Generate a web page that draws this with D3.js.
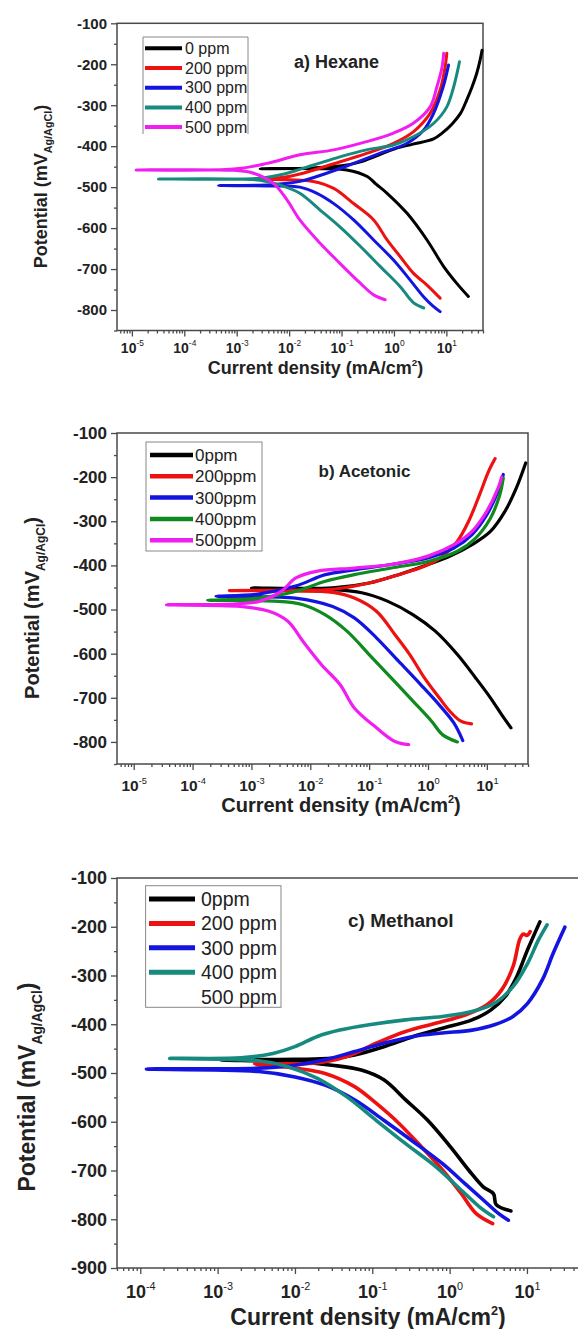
<!DOCTYPE html>
<html>
<head>
<meta charset="utf-8">
<script src="https://cdn.jsdelivr.net/npm/d3@7"></script>
<style>
body { margin: 0; background: #fff; }
svg { display: block; font-family: "Liberation Sans", Arial, sans-serif; }
</style>
</head>
<body>
<svg id="chart" width="578" height="1329"></svg>
<script>
// [current density mA/cm2, potential mV] : cathodic end -> Ecorr tip -> anodic end
let hexane0 = [[26.3,-767],[15.8,-735],[8.9,-694],[4.27,-629],[1.78,-564],[0.74,-515],[0.45,-492],[0.31,-474],[0.126,-458],[0.03,-455],[2.8e-3,-455],
  [0.03,-453],[0.1,-448],[0.25,-437],[0.55,-420],[1.1,-405],[2.3,-395],[5.7,-382],[8.5,-367],[13,-345],[18.6,-320],[24.5,-287],[31,-255],[38,-222],[44,-190],[48,-166]]
let hexane200 = [[7.6,-771],[4.27,-739],[2.34,-710],[1.32,-670],[0.74,-629],[0.41,-580],[0.17,-540],[0.071,-503],[0.029,-486],[0.01,-482],[3.2e-3,-480],
  [0.008,-476],[0.016,-468],[0.071,-443],[0.31,-417],[0.98,-393],[2.34,-365],[4.9,-320],[7.6,-263],[9.5,-206],[10.2,-173]]
let hexane300 = [[7.6,-804],[5.5,-790],[3.63,-767],[2.04,-727],[0.98,-678],[0.41,-629],[0.17,-580],[0.069,-539],[0.034,-515],[0.016,-500],[4.5e-3,-497],[4.5e-4,-496],
  [4.5e-3,-494],[0.016,-486],[0.052,-466],[0.17,-442],[0.55,-417],[1.78,-393],[3.63,-362],[5.6,-322],[8.7,-255],[11,-202]]
let hexane400 = [[3.7,-795],[2.34,-782],[1.32,-743],[0.55,-694],[0.23,-645],[0.093,-597],[0.039,-556],[0.016,-515],[6.8e-3,-495],[2.8e-3,-483],[3.2e-5,-480],
  [2.8e-3,-478],[9.1e-3,-466],[0.0295,-446],[0.093,-426],[0.3,-409],[0.98,-397],[2.34,-377],[5.75,-344],[10.2,-304],[13.8,-255],[17.8,-194]]
let hexane500 = [[0.68,-775],[0.41,-763],[0.23,-735],[0.093,-686],[0.039,-637],[0.016,-580],[9.1e-3,-531],[5e-3,-491],[2.1e-3,-466],[8.7e-4,-459],[1.2e-5,-458],
  [8.7e-4,-456],[3.8e-3,-442],[0.016,-421],[0.071,-409],[0.3,-389],[0.98,-368],[2.34,-344],[4.9,-304],[6.6,-255],[8.3,-206],[8.9,-173]]

let acetonic0 = [[25.7,-768],[17.8,-738],[11.5,-700],[6.45,-655],[3.16,-602],[1.33,-549],[0.56,-512],[0.204,-481],[0.075,-462],[0.024,-455],[1e-3,-451],
  [0.024,-451],[0.1,-440],[0.316,-421],[1,-398],[2.37,-379],[5.6,-353],[11.5,-323],[20.4,-277],[31.6,-225],[45.7,-168]]
let acetonic200 = [[5.5,-759],[3.63,-753],[2.37,-731],[1.55,-700],[0.87,-655],[0.49,-602],[0.275,-557],[0.133,-504],[0.056,-474],[0.024,-461],[4.2e-3,-458],[4.2e-4,-457],
  [4.2e-3,-456],[0.024,-454],[0.1,-440],[0.316,-421],[0.87,-402],[1.78,-379],[3.16,-345],[4.9,-300],[7.5,-240],[10.7,-187],[13.8,-158]]
let acetonic300 = [[3.9,-797],[2.75,-757],[1.55,-716],[0.75,-670],[0.316,-617],[0.133,-564],[0.056,-519],[0.024,-493],[5.6e-3,-474],[2.5e-4,-470],
  [1.3e-3,-465],[5.6e-3,-447],[0.018,-421],[0.056,-410],[0.237,-398],[1,-383],[2.75,-361],[5.6,-330],[10,-285],[15.5,-232],[19,-194]]
let acetonic400 = [[3.16,-800],[1.78,-784],[1.15,-753],[0.56,-708],[0.237,-655],[0.1,-602],[0.042,-549],[0.018,-512],[7.5e-3,-489],[2.4e-3,-481],[1.8e-4,-479],
  [1.3e-3,-474],[5.6e-3,-459],[0.018,-436],[0.056,-421],[0.237,-406],[1,-391],[3.16,-368],[6.45,-338],[11.5,-293],[16.6,-240],[19,-202]]
let acetonic500 = [[0.47,-806],[0.275,-799],[0.133,-768],[0.056,-723],[0.032,-670],[0.0155,-625],[7.5e-3,-572],[4.2e-3,-527],[2e-3,-504],[6.5e-4,-493],[3.6e-5,-489],
  [1.3e-3,-482],[3.2e-3,-459],[5.6e-3,-429],[0.0133,-413],[0.056,-406],[0.237,-398],[1,-379],[2.75,-353],[5.6,-323],[10,-277],[15.5,-225],[17.8,-200]]

let methanol0 = [[6.2,-783],[4.0,-770],[3.7,-748],[2.74,-734],[1.76,-699],[1.02,-651],[0.52,-597],[0.27,-555],[0.141,-514],[0.072,-494],[0.03,-484],[0.01,-477],[1.1e-3,-473],
  [0.01,-472],[0.03,-470],[0.059,-463],[0.141,-446],[0.34,-425],[0.81,-408],[1.95,-391],[3.4,-371],[5.25,-343],[7.4,-302],[10.2,-247],[14.7,-190]]
let methanol200 = [[3.6,-809],[2.19,-788],[1.41,-747],[0.81,-699],[0.43,-651],[0.22,-603],[0.112,-562],[0.059,-528],[0.0245,-501],[0.01,-490],[3e-3,-481],
  [0.017,-480],[0.047,-466],[0.112,-439],[0.27,-415],[0.66,-398],[1.58,-381],[3.05,-360],[4.73,-329],[6.6,-282],[8.1,-225],[9,-215],[10,-218],[11,-210]]
let methanol300 = [[5.75,-802],[4.27,-788],[2.75,-761],[1.58,-727],[0.81,-686],[0.34,-641],[0.141,-597],[0.059,-555],[0.0245,-525],[0.01,-508],[3.4e-3,-497],[1.2e-4,-492],
  [3.4e-3,-490],[0.01,-484],[0.0245,-473],[0.059,-456],[0.141,-439],[0.34,-425],[0.81,-418],[1.95,-412],[3.8,-401],[6.6,-384],[10.2,-357],[15.8,-309],[21.9,-254],[30.9,-201]]
let methanol400 = [[3.7,-795],[2.45,-775],[1.41,-740],[0.66,-692],[0.27,-645],[0.112,-597],[0.047,-549],[0.0195,-511],[8.1e-3,-487],[3.4e-3,-475],[2.4e-4,-470],
  [2e-3,-469],[5.2e-3,-460],[0.01,-446],[0.0195,-425],[0.038,-412],[0.091,-401],[0.27,-391],[0.81,-384],[1.95,-374],[3.8,-357],[6.6,-323],[10.2,-275],[14.1,-227],[18.2,-196]]

let hexaneLabels = ['0 ppm', '200 ppm', '300 ppm', '400 ppm', '500 ppm']
let acetonicLabels = ['0ppm', '200ppm', '300ppm', '400ppm', '500ppm']
let methanolLabels = ['0ppm', '200 ppm', '300 ppm', '400 ppm', '500 ppm']

let black = '#000000', red = '#ee1111', blue = '#1414e0', teal = '#178a80', magenta = '#f01ef0', green = '#0e8a1e'

let panels = [
    { title: 'a) Hexane', series: [hexane0, hexane200, hexane300, hexane400, hexane500],
      colors: [black, red, blue, teal, magenta], labels: hexaneLabels,
      xDomain: [5.2e-6, 50], yDomain: [-850, -100],
      left: 117, right: 483, top: 23.3, bottom: 330.5,
      tickFont: 15, xTickFont: 14, xTickY: 22, lw: 3,
      yTitle: [47, 186.5], xTitle: [315.5, 374], titleFont: 18,
      label: [294, 68], labelFont: 18,
      legend: { x0: 143, x1: 248, y0: 37, y1: 134, row0: 48.3, step: 19.7, lx0: 145, lx1: 182, tx: 185, font: 16, lw: 4, open: true } },
    { title: 'b) Acetonic', series: [acetonic0, acetonic200, acetonic300, acetonic400, acetonic500],
      colors: [black, red, blue, green, magenta], labels: acetonicLabels,
      xDomain: [5.2e-6, 50], yDomain: [-850, -100],
      left: 117, right: 528, top: 433, bottom: 764,
      tickFont: 17, xTickFont: 15.5, xTickY: 27, lw: 3.2,
      yTitle: [39, 608], xTitle: [341, 812], titleFont: 20,
      label: [318.5, 477], labelFont: 17,
      legend: { x0: 146, x1: 262, y0: 442, y1: 551, row0: 455, step: 21.3, lx0: 150, lx1: 193, tx: 195, font: 17, lw: 4.5 } },
    { title: 'c) Methanol', series: [methanol0, methanol200, methanol300, methanol400, null],
      colors: [black, red, blue, teal, null], labels: methanolLabels,
      xDomain: [5e-5, 50], yDomain: [-900, -100],
      left: 117, right: 581, top: 878, bottom: 1268,
      tickFont: 18, xTickFont: 18, xTickY: 30, lw: 3.6,
      yTitle: [35, 1087], xTitle: [368, 1325], titleFont: 23,
      label: [348, 927], labelFont: 19,
      legend: { x0: 145.6, x1: 281, y0: 885.7, y1: 1007.3, row0: 899, step: 24.4, lx0: 149, lx1: 195, tx: 201, font: 19.5, lw: 5 } }
]

let svg = d3.select('#chart')
let axisColor = '#4a4a4a'

let drawPanel = (p) => {
    let g = svg.append('g')
    let x = d3.scaleLog().domain(p.xDomain).range([p.left, p.right])
    let y = d3.scaleLinear().domain(p.yDomain).range([p.bottom, p.top])

    let majorY = d3.range(-100, p.yDomain[0] - 1, -100)
    let minorY = d3.range(-150, p.yDomain[0] - 1, -100)

    let lo = Math.floor(Math.log10(p.xDomain[0])), hi = Math.ceil(Math.log10(p.xDomain[1]))
    let majorX = [], minorX = []
    for (let e = lo; e <= hi; e++) {
        for (let k = 1; k <= 9; k++) {
            let v = k * Math.pow(10, e)
            if (v < p.xDomain[0] || v > p.xDomain[1]) continue
            if (k == 1) majorX.push(v)
            else minorX.push(v)
        }
    }

    g.append('g')
     .attr('transform', 'translate(' + p.left + ',0)')
     .call(d3.axisLeft(y).tickValues(minorY).tickSize(3).tickFormat(''))
    g.append('g')
     .attr('class', 'ylab')
     .attr('transform', 'translate(' + p.left + ',0)')
     .call(d3.axisLeft(y).tickValues(majorY).tickSize(6).tickPadding(4).tickFormat((d) => String(d)))
    g.append('g')
     .attr('transform', 'translate(0,' + p.bottom + ')')
     .call(d3.axisBottom(x).tickValues(minorX).tickSize(3).tickFormat(''))
    let xa = g.append('g')
     .attr('class', 'xlab')
     .attr('transform', 'translate(0,' + p.bottom + ')')
     .call(d3.axisBottom(x).tickValues(majorX).tickSize(6).tickFormat(''))

    g.selectAll('.domain').remove()
    g.selectAll('.tick line').attr('stroke', axisColor).attr('stroke-width', 1.3)
    g.selectAll('.ylab text')
     .attr('font-size', p.tickFont).attr('font-weight', 'bold').attr('fill', '#222')
     .style('font-family', '"Liberation Sans", Arial, sans-serif')

    let xt = xa.selectAll('.tick text')
        .attr('y', p.xTickY).attr('dy', null)
        .attr('font-size', p.xTickFont).attr('font-weight', 'bold').attr('fill', '#222')
        .style('font-family', '"Liberation Sans", Arial, sans-serif')
    xt.append('tspan').text('10')
    xt.append('tspan').text((d) => String(Math.round(Math.log10(d))))
      .attr('font-size', p.xTickFont * 0.6).attr('font-weight', 'normal').attr('dy', -p.xTickFont * 0.45)

    g.append('rect')
     .attr('x', p.left).attr('y', p.top)
     .attr('width', p.right - p.left).attr('height', p.bottom - p.top)
     .attr('fill', 'none').attr('stroke', axisColor).attr('stroke-width', 1.5)

    let line = d3.line()
        .x((d) => x(d[0]))
        .y((d) => y(d[1]))
        .curve(d3.curveCatmullRom.alpha(0.5))

    p.series.forEach((s, i) => {
        if (!s) return
        g.append('path')
         .attr('d', line(s))
         .attr('fill', 'none')
         .attr('stroke', p.colors[i])
         .attr('stroke-width', p.lw)
         .attr('stroke-linejoin', 'round')
         .attr('stroke-linecap', 'round')
    })

    // legend
    let L = p.legend
    let lg = g.append('g')
    if (L.open) {
        lg.append('path')
          .attr('d', 'M' + L.x0 + ',' + L.y1 + 'V' + L.y0 + 'H' + L.x1 + 'V' + L.y1)
          .attr('fill', 'none').attr('stroke', '#888').attr('stroke-width', 1)
    } else {
        lg.append('rect')
          .attr('x', L.x0).attr('y', L.y0).attr('width', L.x1 - L.x0).attr('height', L.y1 - L.y0)
          .attr('fill', 'none').attr('stroke', '#888').attr('stroke-width', 1)
    }
    p.labels.forEach((lab, i) => {
        let yy = L.row0 + i * L.step
        if (p.colors[i]) {
            lg.append('line')
              .attr('x1', L.lx0).attr('x2', L.lx1).attr('y1', yy).attr('y2', yy)
              .attr('stroke', p.colors[i]).attr('stroke-width', L.lw)
        }
        lg.append('text')
          .attr('x', L.tx).attr('y', yy + L.font * 0.36)
          .attr('font-size', L.font).attr('fill', '#222')
          .text(lab)
    })

    // panel name
    g.append('text')
     .attr('x', p.label[0]).attr('y', p.label[1])
     .attr('font-size', p.labelFont).attr('font-weight', 'bold').attr('fill', '#222')
     .text(p.title)

    // y title
    let yt = g.append('text')
     .attr('transform', 'translate(' + p.yTitle[0] + ',' + p.yTitle[1] + ') rotate(-90)')
     .attr('text-anchor', 'middle')
     .attr('font-size', p.titleFont).attr('font-weight', 'bold').attr('fill', '#222')
    yt.append('tspan').text('Potential (mV')
    yt.append('tspan').text('Ag/AgCl').attr('font-size', p.titleFont * 0.6).attr('dy', p.titleFont * 0.3)
    yt.append('tspan').text(')').attr('dy', -p.titleFont * 0.3)

    // x title
    let xtl = g.append('text')
     .attr('x', p.xTitle[0]).attr('y', p.xTitle[1])
     .attr('text-anchor', 'middle')
     .attr('font-size', p.titleFont).attr('font-weight', 'bold').attr('fill', '#222')
    xtl.append('tspan').text('Current density (mA/cm')
    xtl.append('tspan').text('2').attr('font-size', p.titleFont * 0.55).attr('dy', -p.titleFont * 0.45)
    xtl.append('tspan').text(')').attr('dy', p.titleFont * 0.45)
}

panels.forEach(drawPanel)
</script>
</body>
</html>
